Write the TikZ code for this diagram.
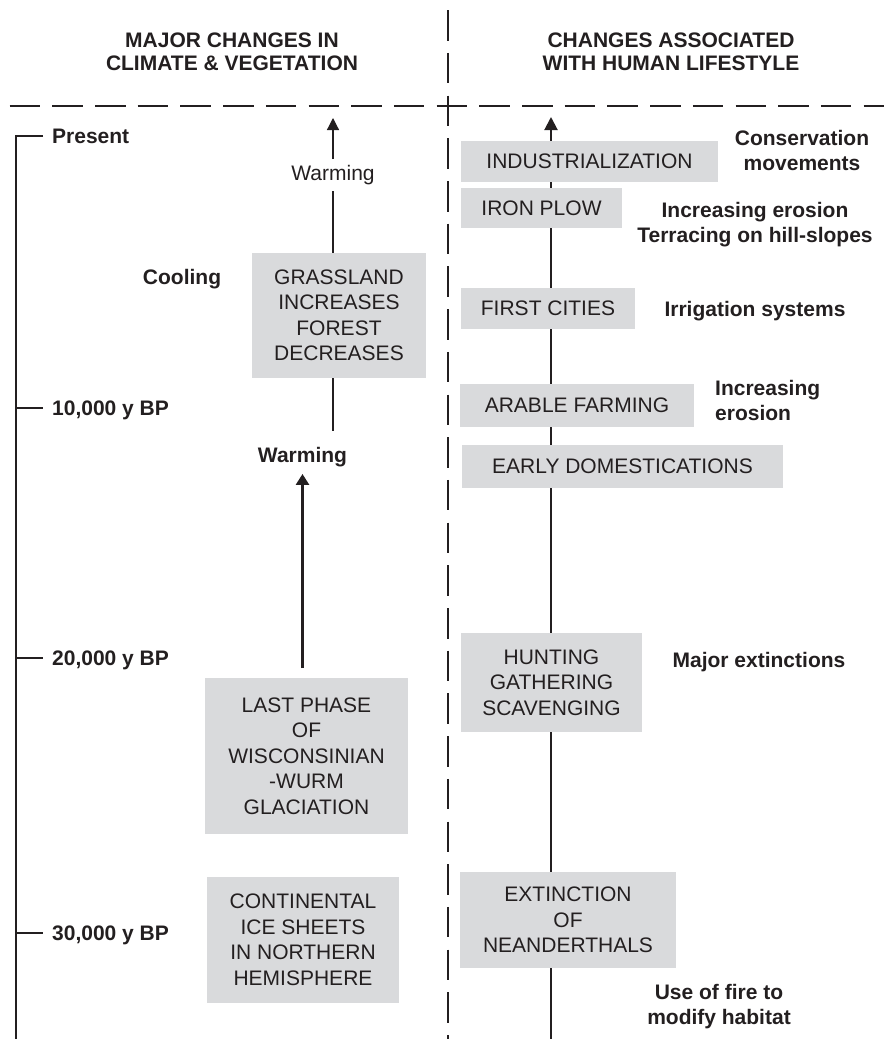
\documentclass[tikz,border=0pt]{standalone}
\usepackage{fontspec}
\setmainfont{Liberation Sans}
\usepackage{tikz}
\usetikzlibrary{arrows.meta}
\usetikzlibrary{positioning}
\definecolor{boxgray}{RGB}{217,218,220}
\definecolor{ink}{RGB}{35,31,32}
\tikzset{>={Triangle[length=12pt,width=12pt]}}
\tikzset{
  stagebox/.style={fill=boxgray, inner sep=0pt, align=center, text=ink},
  header/.style={font=\bfseries\fontsize{21}{23}\selectfont, align=center, inner sep=0pt, text=ink},
  note/.style={font=\bfseries\fontsize{21}{25}\selectfont, align=center, inner sep=0pt, text=ink},
  oneline/.style={text height=15pt, text depth=0pt},
  era/.style={font=\bfseries\fontsize{21}{25}\selectfont, anchor=west, inner sep=0pt, text=ink, oneline},
  trend/.style={inner xsep=0pt, text height=15pt, text depth=4.5pt, text=ink},
  divider/.style={line width=2.6pt, dash pattern=on 30.5pt off 12.2pt, ink},
  spine/.style={line width=2pt, ink},
  thinline/.style={line width=1.2pt, ink},
  boldline/.style={line width=2.6pt, ink},
  axisline/.style={line width=1.3pt, ink},
}

\begin{document}
\begin{tikzpicture}[x=1pt, y=-1pt, font=\fontsize{21}{25.5}\selectfont]
        \useasboundingbox (0,0) rectangle (884,1039);

        % Column headings and dividers
        \node [header] (climhead) at (232,51.5) {MAJOR CHANGES IN\\CLIMATE \& VEGETATION};
        \node [header] (lifehead) at (671,51.5) {CHANGES ASSOCIATED\\WITH HUMAN LIFESTYLE};
        \draw [divider] (9.6,106) -- (884,106);
        \draw [divider] (448,10.2) -- (448,1039);

        % Time axis
        \coordinate (axbot) at (16,1039);
        \node [era] (present) at (52,136) {Present};
        \node [era] (tenk) at (52,408) {10,000 y BP};
        \node [era] (twentyk) at (52,658) {20,000 y BP};
        \node [era] (thirtyk) at (52,933) {30,000 y BP};
        \draw [axisline] ([xshift=-9pt]present.west) -| (axbot);
        \foreach \n in {tenk, twentyk, thirtyk}
          \draw [axisline] (\n.west -| axbot) -- ([xshift=-9pt]\n.west);

        % Climate & vegetation
        \node [stagebox, minimum width=174pt, minimum height=125pt] (grass) at (339,315.5) {GRASSLAND\\INCREASES\\FOREST\\DECREASES};
        \node [stagebox, minimum width=203pt, minimum height=156pt] (phase) at (306.5,756) {LAST PHASE\\OF\\WISCONSINIAN\\-WURM\\GLACIATION};
        \node [stagebox, minimum width=192pt, minimum height=126pt] (icesheet) at (303,940) {CONTINENTAL\\ICE SHEETS\\IN NORTHERN\\HEMISPHERE};
        \node [note, oneline] (cooling) at (182,277) {Cooling};
        \node [trend, inner ysep=6pt] (warmA) at (333,175) {Warming};
        \node [trend, inner ysep=7pt, font=\bfseries\fontsize{21}{25}\selectfont] (warmB) at (302.5,457) {Warming};
        \coordinate (ltop) at (333,118);
        \coordinate (lmid) at (333,431);
        \coordinate (ltail) at (302.5,668);
        \draw [thinline, ->] (warmA.north) -- (ltop);
        \draw [thinline] (grass.north -| warmA) -- (warmA.south);
        \draw [thinline] (grass.south -| warmA) -- (lmid);
        \draw [boldline, -{Triangle[length=11pt,width=13pt]}] (ltail) -- (warmB.south);

        % Human lifestyle
        \node [stagebox, minimum width=257pt, minimum height=41pt] (indust) at (589.5,161.5) {INDUSTRIALIZATION};
        \node [stagebox, minimum width=161pt, minimum height=40pt] (iron) at (541.5,208) {IRON PLOW};
        \node [stagebox, minimum width=174pt, minimum height=41pt] (cities) at (548,308.5) {FIRST CITIES};
        \node [stagebox, minimum width=234pt, minimum height=43pt] (arable) at (577,405.5) {ARABLE FARMING};
        \node [stagebox, minimum width=321pt, minimum height=43pt] (early) at (622.5,466.5) {EARLY DOMESTICATIONS};
        \node [stagebox, minimum width=181pt, minimum height=99pt] (hunt) at (551.5,682.5) {HUNTING\\GATHERING\\SCAVENGING};
        \node [stagebox, minimum width=216pt, minimum height=96pt] (neander) at (568,920) {EXTINCTION\\OF\\NEANDERTHALS};

        \coordinate (rtop) at (551,117);
        \coordinate (rbot) at (551,1039);
        \draw [spine] (rbot) -- (neander.south -| rbot);
        \foreach \a/\b in {neander/hunt, hunt/early, early/arable, arable/cities, cities/iron, iron/indust}
          \draw [spine] (\a.north -| rbot) -- (\b.south -| rbot);
        \draw [spine, -{Triangle[length=13pt,width=13pt]}] (indust.north -| rbot) -- (rtop);

        % Consequences
        \node [note] (conserv) at (802,150) {Conservation\\movements};
        \node [note] (erosion) at (755,224.5) {Increasing erosion\\Terracing on hill-slopes};
        \node [note, oneline] (irrig) at (755,309) {Irrigation systems};
        \node [note, align=left, anchor=west] (erosionB) at (715,400.5) {Increasing\\erosion};
        \node [note, oneline] (extinct) at (759,660) {Major extinctions};
        \node [note] (fire) at (719,1006.5) {Use of fire to\\modify habitat};
      \end{tikzpicture}
\end{document}
